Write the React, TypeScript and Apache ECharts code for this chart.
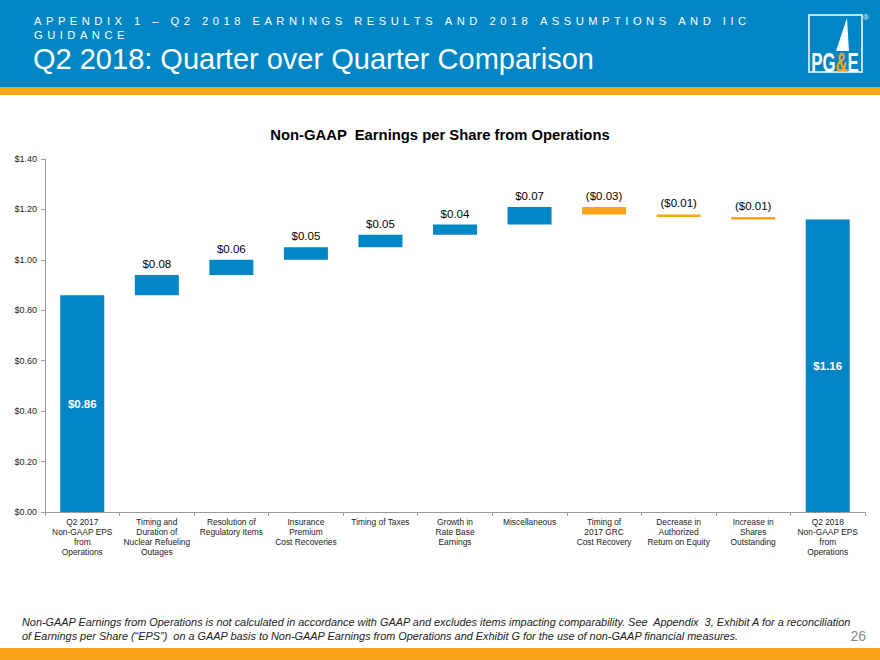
import React, { useEffect, useRef } from "react";
import * as echarts from "echarts";

const categories = [
  "Q2 2017\nNon-GAAP EPS\nfrom\nOperations",
  "Timing and\nDuration of\nNuclear Refueling\nOutages",
  "Resolution of\nRegulatory Items",
  "Insurance\nPremium\nCost Recoveries",
  "Timing of Taxes",
  "Growth in\nRate Base\nEarnings",
  "Miscellaneous",
  "Timing of\n2017 GRC\nCost Recovery",
  "Decrease in\nAuthorized\nReturn on Equity",
  "Increase in\nShares\nOutstanding",
  "Q2 2018\nNon-GAAP EPS\nfrom\nOperations",
];
const startEPS = 0.86;
const deltas = [0.08, 0.06, 0.05, 0.05, 0.04, 0.07, -0.03, -0.01, -0.01];
const endEPS = 1.16;
const yMin = 0;
const yMax = 1.4;
const yStep = 0.2;

const headerLine1 = "APPENDIX 1 – Q2 2018 EARNINGS RESULTS AND 2018 ASSUMPTIONS AND IIC";
const headerLine2 = "GUIDANCE";
const headerTitle = "Q2 2018: Quarter over Quarter Comparison";
const chartTitle = "Non-GAAP  Earnings per Share from Operations";
const footnote1 =
  "Non-GAAP Earnings from Operations is not calculated in accordance with GAAP and excludes items impacting comparability. See  Appendix  3, Exhibit A for a reconciliation";
const footnote2 =
  "of Earnings per Share (\u201CEPS\u201D)  on a GAAP basis to Non-GAAP Earnings from Operations and Exhibit G for the use of non-GAAP financial measures.";
const pageNumber = "26";

const BLUE = "#0086C4";
const ORANGE = "#FBA41B";
const FONT = '"Liberation Sans", Arial, sans-serif';

const spaced = (s: string) => s.split("").join("\u2009\u2009");
const money = (v: number) =>
  v < 0 ? `($${Math.abs(v).toFixed(2)})` : `$${v.toFixed(2)}`;

export default function App() {
  const ref = useRef<HTMLDivElement>(null);
  useEffect(() => {
    if (!ref.current) return;
    const chart = echarts.init(ref.current, undefined, { renderer: "svg" });

    const totalLabel = {
      show: true,
      position: "inside",
      color: "#fff",
      fontWeight: "bold",
      fontSize: 11.5,
      fontFamily: FONT,
    };
    const base: number[] = [];
    const vals: any[] = [];
    const signed: number[] = [];
    base.push(0);
    vals.push({ value: startEPS, itemStyle: { color: BLUE }, label: totalLabel });
    signed.push(startEPS);
    let cum = startEPS;
    deltas.forEach((d) => {
      const next = Math.round((cum + d) * 1000) / 1000;
      base.push(d >= 0 ? cum : next);
      vals.push({
        value: Math.abs(d),
        itemStyle: { color: d >= 0 ? BLUE : ORANGE },
      });
      signed.push(d);
      cum = next;
    });
    base.push(0);
    vals.push({ value: endEPS, itemStyle: { color: BLUE }, label: totalLabel });
    signed.push(endEPS);

    chart.setOption({
      animation: false,
      textStyle: { fontFamily: FONT },
      title: {
        text: chartTitle,
        left: "center",
        top: 122,
        textStyle: { fontSize: 14.8, fontWeight: "bold", color: "#000", fontFamily: FONT },
      },
      grid: { left: 45, right: 15, top: 159, bottom: 148, containLabel: false },
      xAxis: {
        type: "category",
        data: categories,
        axisLine: { lineStyle: { color: "#999" } },
        axisTick: { show: true, length: 4, lineStyle: { color: "#999" } },
        axisLabel: {
          interval: 0,
          fontSize: 8.4,
          lineHeight: 10,
          color: "#222",
          margin: 5,
          fontFamily: FONT,
        },
      },
      yAxis: {
        type: "value",
        min: yMin,
        max: yMax,
        interval: yStep,
        axisLine: { show: true, lineStyle: { color: "#999" } },
        axisTick: { show: true, length: 4, lineStyle: { color: "#999" } },
        splitLine: { show: false },
        axisLabel: {
          formatter: (v: number) => `$${v.toFixed(2)}`,
          fontSize: 9,
          color: "#222",
          margin: 8,
          fontFamily: FONT,
        },
      },
      series: [
        {
          type: "bar",
          stack: "wf",
          data: base,
          itemStyle: { color: "transparent" },
          barWidth: 44,
          silent: true,
        },
        {
          type: "bar",
          stack: "wf",
          data: vals,
          barWidth: 44,
          label: {
            show: true,
            position: "top",
            distance: 5,
            fontSize: 11.5,
            color: "#000",
            fontFamily: FONT,
            formatter: (p: any) => money(signed[p.dataIndex]),
          },
        },
      ],
      graphic: [
        { type: "rect", shape: { x: 0, y: 0, width: 880, height: 87 }, style: { fill: BLUE } },
        { type: "rect", shape: { x: 0, y: 87, width: 880, height: 8 }, style: { fill: ORANGE } },
        { type: "rect", shape: { x: 0, y: 648, width: 880, height: 12 }, style: { fill: ORANGE } },
        {
          type: "text",
          x: 34,
          y: 21,
          style: {
            text: spaced(headerLine1),
            fill: "#fff",
            fontSize: 11.2,
            fontFamily: FONT,
            verticalAlign: "middle",
          },
        },
        {
          type: "text",
          x: 34,
          y: 35,
          style: {
            text: spaced(headerLine2),
            fill: "#fff",
            fontSize: 11.2,
            fontFamily: FONT,
            verticalAlign: "middle",
          },
        },
        {
          type: "text",
          x: 33,
          y: 59,
          style: {
            text: headerTitle,
            fill: "#fff",
            fontSize: 29,
            fontFamily: FONT,
            verticalAlign: "middle",
          },
        },
        {
          type: "rect",
          shape: { x: 809, y: 15, width: 53, height: 57 },
          style: { fill: "none", stroke: "#fff", lineWidth: 1.5 },
        },
        {
          type: "polygon",
          shape: { points: [[847, 18], [849, 51], [836, 51]] },
          style: { fill: "#fff" },
        },
        {
          type: "text",
          x: 835,
          y: 62,
          scaleX: 0.6,
          style: {
            text: "{a|PG}{b|&}{a|E}",
            fontSize: 28,
            fontWeight: "bold",
            fontFamily: FONT,
            align: "center",
            verticalAlign: "middle",
            rich: {
              a: { fill: "#fff", fontSize: 28, fontWeight: "bold", fontFamily: FONT },
              b: { fill: ORANGE, fontSize: 28, fontWeight: "bold", fontFamily: FONT },
            },
          },
        },
        {
          type: "text",
          x: 866,
          y: 17,
          style: { text: "®", fill: "#fff", fontSize: 8, align: "center", verticalAlign: "middle", fontFamily: FONT },
        },
        {
          type: "text",
          x: 22,
          y: 622,
          style: {
            text: footnote1,
            fill: "#222",
            fontSize: 10.9,
            fontStyle: "italic",
            fontFamily: FONT,
            verticalAlign: "middle",
          },
        },
        {
          type: "text",
          x: 22,
          y: 636,
          style: {
            text: footnote2,
            fill: "#222",
            fontSize: 10.9,
            fontStyle: "italic",
            fontFamily: FONT,
            verticalAlign: "middle",
          },
        },
        {
          type: "text",
          x: 866,
          y: 636,
          style: {
            text: pageNumber,
            fill: "#888",
            fontSize: 14,
            fontFamily: FONT,
            align: "right",
            verticalAlign: "middle",
          },
        },
      ],
    });
    return () => chart.dispose();
  }, []);
  return (
    <div
      ref={ref}
      style={{ position: "fixed", left: 0, top: 0, width: 880, height: 660, background: "#fff" }}
    />
  );
}
